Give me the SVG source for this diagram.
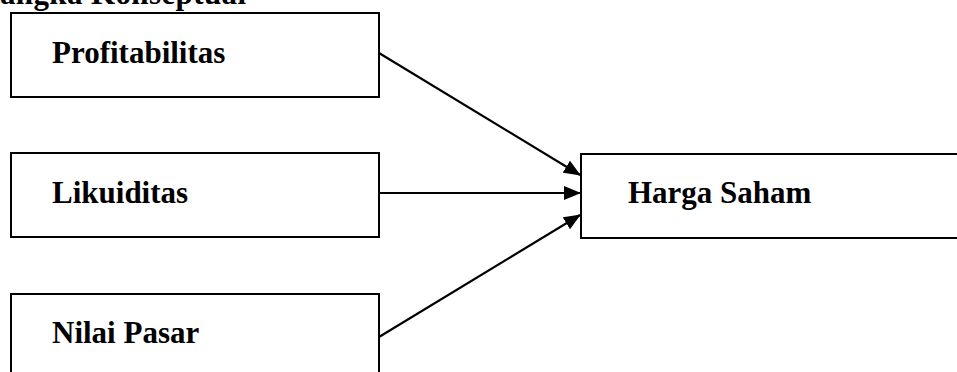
<svg xmlns="http://www.w3.org/2000/svg" width="957" height="372" viewBox="0 0 957 372">
<style>
.box{fill:#fff;stroke:#000;stroke-width:2}
.lbl{font-family:"Liberation Serif",serif;font-weight:bold;font-size:31px;fill:#000}
.conn{stroke:#000;stroke-width:2.2;fill:none;marker-end:url(#ah)}
</style>
<defs>
<marker id="ah" markerWidth="17" markerHeight="14" refX="16" refY="7" orient="auto" markerUnits="userSpaceOnUse">
<path d="M0,0 L17,7 L0,14 Z" fill="#000"/>
</marker>
</defs>
<rect width="957" height="372" fill="#fff"/>
<text class="lbl" x="0" y="4" textLength="246">angka Konseptual</text>
<g id="profitabilitas">
<rect class="box" x="11" y="13" width="368" height="84"/>
<text class="lbl" x="52" y="63">Profitabilitas</text>
</g>
<g id="likuiditas">
<rect class="box" x="11" y="153" width="368" height="84"/>
<text class="lbl" x="52" y="203">Likuiditas</text>
</g>
<g id="nilai-pasar">
<rect class="box" x="11" y="294" width="368" height="90"/>
<text class="lbl" x="52" y="343">Nilai Pasar</text>
</g>
<g id="harga-saham">
<rect class="box" x="581" y="154" width="390" height="84"/>
<text class="lbl" x="628" y="203">Harga Saham</text>
</g>
<g id="connectors">
<line class="conn" x1="379" y1="53" x2="580" y2="175"/>
<line class="conn" x1="379" y1="193" x2="580" y2="193"/>
<line class="conn" x1="379" y1="337" x2="580" y2="215"/>
</g>
</svg>
